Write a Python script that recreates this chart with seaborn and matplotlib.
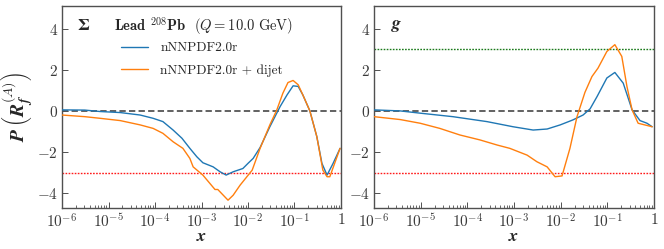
import numpy as np
import pandas as pd
import matplotlib
matplotlib.use("Agg")
import matplotlib.pyplot as plt
from matplotlib.lines import Line2D
import seaborn as sns

# ---------------- data ----------------
# Singlet (Sigma) panel
sig_base_x = [1e-6, 3.09e-6, 6.61e-6, 1.78e-5, 4.79e-5, 9.12e-5, 1.48e-4, 2.45e-4,
              3.80e-4, 5.62e-4, 7.94e-4, 1.07e-3, 1.78e-3, 2.51e-3, 3.39e-3, 4.79e-3,
              7.76e-3, 1.0e-2, 1.29e-2, 1.82e-2, 2.95e-2, 4.90e-2, 6.92e-2, 9.33e-2,
              0.120, 0.151, 0.214, 0.302, 0.389, 0.501, 0.676, 0.955]
sig_base_y = [0.05, 0.04, -0.03, -0.08, -0.20, -0.36, -0.52, -0.93,
              -1.33, -1.82, -2.23, -2.52, -2.72, -2.96, -3.12, -2.96,
              -2.80, -2.55, -2.31, -1.78, -0.77, 0.21, 0.78, 1.22,
              1.19, 0.78, 0.0, -1.25, -2.55, -3.12, -2.55, -1.82]
sig_dij_x = [1e-6, 3.09e-6, 6.61e-6, 1.78e-5, 4.79e-5, 9.12e-5, 1.48e-4, 2.45e-4,
             3.98e-4, 5.62e-4, 6.61e-4, 1.07e-3, 1.95e-3, 2.24e-3, 3.72e-3, 4.79e-3,
             6.76e-3, 1.23e-2, 1.82e-2, 2.95e-2, 4.17e-2, 5.62e-2, 7.24e-2, 9.33e-2,
             0.120, 0.151, 0.214, 0.302, 0.407, 0.501, 0.575, 0.955]
sig_dij_y = [-0.20, -0.28, -0.36, -0.47, -0.68, -0.85, -1.09, -1.50,
             -1.82, -2.31, -2.72, -3.12, -3.82, -3.82, -4.34, -4.10,
             -3.61, -2.88, -1.82, -0.68, 0.05, 0.86, 1.38, 1.48,
             1.27, 0.78, 0.0, -1.25, -2.88, -3.20, -3.20, -1.82]

# Gluon panel
g_base_x = [1e-6, 3.63e-6, 9.77e-6, 4.90e-5, 2.63e-4, 9.55e-4, 2.57e-3, 5.13e-3,
            9.77e-3, 1.82e-2, 3.02e-2, 4.27e-2, 6.03e-2, 9.77e-2, 0.145, 0.219,
            0.339, 0.501, 0.708, 0.912]
g_base_y = [0.05, 0.0, -0.11, -0.28, -0.52, -0.77, -0.93, -0.88,
            -0.68, -0.44, -0.20, 0.10, 0.70, 1.60, 1.87, 1.35,
            0.05, -0.47, -0.60, -0.77]
g_dij_x = [1e-6, 3.63e-6, 9.77e-6, 2.57e-5, 6.92e-5, 1.86e-4, 4.37e-4, 8.13e-4,
           1.91e-3, 3.09e-3, 5.13e-3, 7.59e-3, 1.07e-2, 1.58e-2, 2.24e-2, 3.31e-2,
           4.68e-2, 6.31e-2, 9.77e-2, 0.145, 0.204, 0.263, 0.339, 0.457, 0.912]
g_dij_y = [-0.28, -0.42, -0.60, -0.85, -1.17, -1.41, -1.66, -1.82,
           -2.15, -2.47, -2.72, -3.20, -3.16, -1.82, -0.28, 0.90,
           1.67, 2.08, 2.89, 3.22, 2.65, 1.19, 0.05, -0.60, -0.77]

labels = ["nNNPDF2.0r", "nNNPDF2.0r + dijet"]
xtick_vals = [1e-6, 1e-5, 1e-4, 1e-3, 1e-2, 1e-1, 1]
xtick_labels = [r"$10^{-6}$", r"$10^{-5}$", r"$10^{-4}$", r"$10^{-3}$",
                r"$10^{-2}$", r"$10^{-1}$", r"$1$"]
ytick_vals = [-4, -2, 0, 2, 4]
ytick_labels = [r"$-4$", r"$-2$", r"$0$", r"$2$", r"$4$"]

# ---------------- style ----------------
sns.set_style("ticks")
plt.rcParams["mathtext.fontset"] = "cm"
plt.rcParams["font.family"] = ["cmr10", "DejaVu Serif"]
plt.rcParams["axes.unicode_minus"] = False
plt.rcParams["axes.formatter.use_mathtext"] = True

BLUE = "#1f77b4"
ORANGE = "#ff7f0e"
SPINE = "#505050"

fig = plt.figure(figsize=(6.64, 2.49), dpi=100)
W, H = 664, 249
def ax_at(x0, x1, y0, y1):
    return fig.add_axes([x0 / W, 1 - y1 / H, (x1 - x0) / W, (y1 - y0) / H])

axL = ax_at(62, 341, 6, 208)
axR = ax_at(374, 654, 6, 208)

def df_of(x, y, name):
    return pd.DataFrame({"x": x, "y": y, "fit": name})

for ax, (bx, by, dx, dy) in [(axL, (sig_base_x, sig_base_y, sig_dij_x, sig_dij_y)),
                             (axR, (g_base_x, g_base_y, g_dij_x, g_dij_y))]:
    data = pd.concat([df_of(bx, by, labels[0]), df_of(dx, dy, labels[1])])
    sns.lineplot(data=data, x="x", y="y", hue="fit", palette=[BLUE, ORANGE],
                 sort=True, estimator=None, lw=1.0, ax=ax, legend=False, zorder=3)
    ax.set_xscale("log")
    ax.set_xlim(1e-6, 1)
    ax.set_ylim(-4.72, 5.1)
    ax.axhline(0, color="#555555", ls=(0, (3.5, 1.8)), lw=1.3, zorder=2)
    ax.axhline(-3, color="#ff1a1a", ls=(0, (1.2, 1.0)), lw=1.0, zorder=2)
    ax.set_xticks(xtick_vals)
    ax.set_xticklabels(xtick_labels)
    ax.set_yticks(ytick_vals)
    ax.set_yticklabels(ytick_labels)
    ax.tick_params(which="major", direction="in", length=4, width=0.7,
                   colors=SPINE, labelsize=11, labelcolor="#3a3a3a", pad=3)
    ax.tick_params(which="minor", direction="in", length=2, width=0.6, colors=SPINE)
    ax.tick_params(axis="y", which="minor", left=False)
    for s in ax.spines.values():
        s.set_visible(True)
        s.set_color(SPINE)
        s.set_linewidth(1.0)
    ax.set_xlabel(r"$\mathbfit{x}$", fontsize=13, labelpad=-1)
    ax.set_ylabel("")

axR.axhline(3, color="#1a7a1a", ls=(0, (1.2, 1.0)), lw=1.0, zorder=2)

axL.set_ylabel(r"$\mathbfit{P}\,\left(\mathbfit{R}_{\mathbfit{f}}^{(A)}\right)$",
               fontsize=14, labelpad=1)

# annotations
ty = 1 - (26 - 6) / 202
axL.text((77 - 62) / 279, ty, "Σ", transform=axL.transAxes,
         fontsize=12.5, va="center", ha="left", family="STIXGeneral", weight="bold")
axL.text((114 - 62) / 279, ty,
         r"$\mathbf{Lead}$ $^{208}\mathbf{Pb}$  $(Q = 10.0\ \mathrm{GeV})$",
         transform=axL.transAxes, fontsize=10.5, va="center", ha="left")
axR.text((391 - 374) / 280, ty, r"$\mathbfit{g}$", transform=axR.transAxes,
         fontsize=13, va="center", ha="left")

handles = [Line2D([], [], color=BLUE, lw=1.0), Line2D([], [], color=ORANGE, lw=1.0)]
axL.legend(handles, labels, loc="upper left",
           bbox_to_anchor=((121 - 62) / 279, 1 - (42 - 6) / 202),
           frameon=False, fontsize=9.6, handlelength=2.05, handletextpad=0.9,
           labelspacing=0.72, borderaxespad=0, borderpad=0)

fig.savefig("out.png", dpi=100)
